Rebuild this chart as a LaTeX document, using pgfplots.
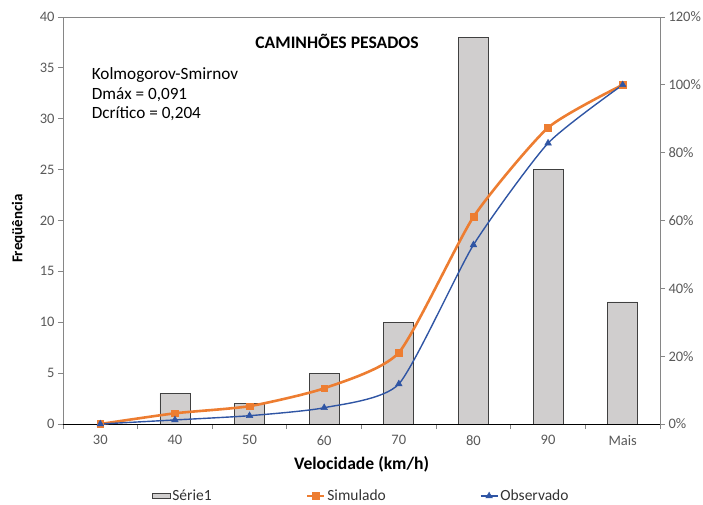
\documentclass[border=0pt]{standalone}
\usepackage{pgfplots}
\pgfplotsset{compat=1.18}
\usepackage{fontspec}
\setmainfont{Carlito}
\definecolor{barfill}{HTML}{D0CECE}
\definecolor{bardraw}{HTML}{404040}
\definecolor{simo}{HTML}{ED7D31}
\definecolor{obsb}{HTML}{2F55A4}
\definecolor{ticktxt}{HTML}{595959}
\definecolor{axgray}{HTML}{868686}
\begin{document}
\begin{tikzpicture}
\path[use as bounding box] (-63pt,-80pt) rectangle (640pt,424pt);
\begin{axis}[
  at={(0pt,0pt)}, anchor=south west, scale only axis,
  width=597pt, height=407pt,
  xmin=-0.5, xmax=7.5, ymin=0, ymax=40,
  /pgf/number format/assume math mode=true,
  axis line style={draw=axgray, line width=0.8pt},
  tick pos=left, tick align=outside,
  xtick={0,...,7}, xticklabels={30,40,50,60,70,80,90,Mais},
  minor xtick={-0.5,0.5,...,7.5},
  major x tick style={draw=none},
  minor x tick style={draw=axgray, line width=0.8pt},
  minor tick length=5pt,
  ytick={0,5,...,40},
  major y tick style={draw=axgray, line width=0.8pt},
  major tick length=5pt,
  tick label style={font=\fontsize{14.5}{16}\selectfont, text=ticktxt},
  xticklabel style={yshift=-3pt},
  xlabel={Velocidade (km/h)},
  ylabel={Freqüência},
  every axis x label/.style={at={(axis description cs:0.5,-0.098)}, anchor=center, font=\fontsize{17.6}{20}\selectfont\bfseries},
  every axis y label/.style={at={(axis description cs:-0.075,0.48)}, rotate=90, anchor=center, font=\fontsize{15}{18}\selectfont\bfseries},
]
\addplot[ybar, bar width=30pt, fill=barfill, draw=bardraw, line width=0.8pt]
  coordinates {(0,0) (1,3) (2,2) (3,5) (4,10) (5,38) (6,25) (7,12)};
\draw[black, line width=0.8pt] (rel axis cs:0,0) -- (rel axis cs:1,0);
\node[font=\fontsize{17.6}{20}\selectfont\bfseries, anchor=center] at (rel axis cs:0.459,0.939) {CAMINHÕES PESADOS};
\node[font=\fontsize{17.2}{19.5}\selectfont, anchor=north west, align=left, inner sep=0pt] at (rel axis cs:0.048,0.876)
  {Kolmogorov-Smirnov\\Dmáx = 0,091\\Dcrítico = 0,204};
\end{axis}
\begin{axis}[
  at={(0pt,0pt)}, anchor=south west, scale only axis,
  width=597pt, height=407pt,
  xmin=-0.5, xmax=7.5, ymin=0, ymax=120,
  /pgf/number format/assume math mode=true,
  axis y line*=right, hide x axis,
  axis line style={draw=axgray, line width=0.8pt},
  tick align=outside, major tick length=5pt,
  ytick={0,20,...,120},
  yticklabel={\pgfmathprintnumber{\tick}\%},
  y tick style={draw=axgray, line width=0.8pt},
  tick label style={font=\fontsize{14.5}{16}\selectfont, text=ticktxt},
  legend style={at={(axis description cs:0.5,-0.177)}, anchor=center, draw=none, fill=none,
    legend columns=3, font=\fontsize{15.5}{17}\selectfont, text=black!80,
    /tikz/every even column/.append style={column sep=92pt}},
]
\addlegendimage{area legend, fill=barfill, draw=bardraw, line width=0.8pt}
\addlegendentry{Série1}
\addplot[simo, line width=2.6pt, smooth, tension=0.35, mark=square*, mark size=3.4pt, mark options={line width=0.5pt}]
  coordinates {(0,0) (1,3.16) (2,5.26) (3,10.53) (4,21.05) (5,61.05) (6,87.37) (7,100)};
\addlegendentry{Simulado}
\addplot[obsb, line width=1.4pt, smooth, tension=0.35, mark=triangle*, mark size=3.8pt, mark options={line width=0.5pt}]
  coordinates {(0,0) (1,1.2) (2,2.45) (3,4.8) (4,11.8) (5,52.8) (6,82.8) (7,100)};
\addlegendentry{Observado}
\end{axis}
\end{tikzpicture}
\end{document}
